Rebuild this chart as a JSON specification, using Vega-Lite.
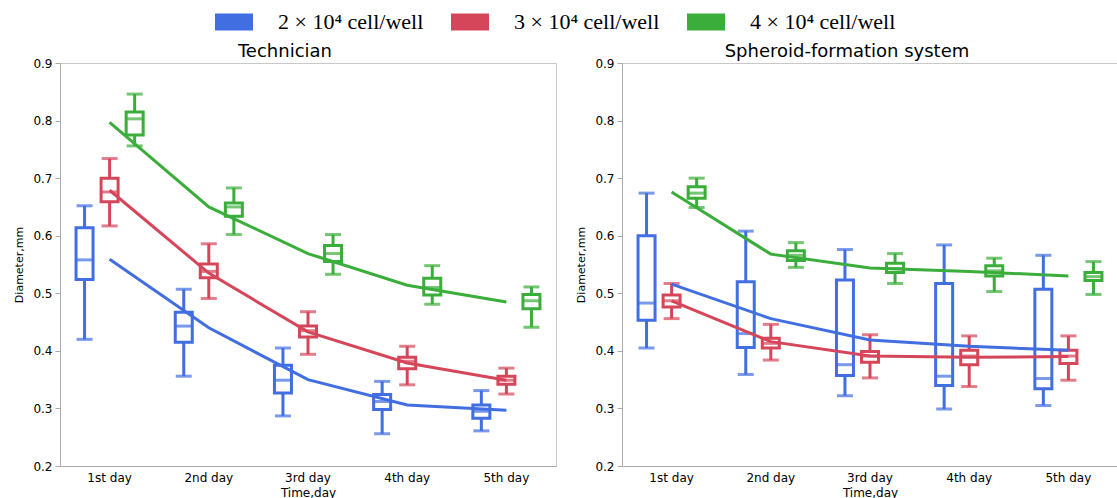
{
  "$schema": "https://vega.github.io/schema/vega-lite/v6.json",
  "background": "white",
  "padding": {"left": 13, "top": 3, "right": 1, "bottom": 5},
  "datasets": {
    "box": [
      {"panel": "T", "day": "1st day", "density": "2 × 10⁴ cell/well", "lo": 0.420, "q1": 0.524, "med": 0.558, "q3": 0.614, "hi": 0.652, "mean": 0.559},
      {"panel": "T", "day": "1st day", "density": "3 × 10⁴ cell/well", "lo": 0.617, "q1": 0.659, "med": 0.676, "q3": 0.700, "hi": 0.734, "mean": 0.679},
      {"panel": "T", "day": "1st day", "density": "4 × 10⁴ cell/well", "lo": 0.756, "q1": 0.775, "med": 0.803, "q3": 0.815, "hi": 0.846, "mean": 0.797},
      {"panel": "T", "day": "2nd day", "density": "2 × 10⁴ cell/well", "lo": 0.356, "q1": 0.415, "med": 0.443, "q3": 0.467, "hi": 0.507, "mean": 0.440},
      {"panel": "T", "day": "2nd day", "density": "3 × 10⁴ cell/well", "lo": 0.491, "q1": 0.527, "med": 0.538, "q3": 0.551, "hi": 0.586, "mean": 0.535},
      {"panel": "T", "day": "2nd day", "density": "4 × 10⁴ cell/well", "lo": 0.602, "q1": 0.634, "med": 0.650, "q3": 0.657, "hi": 0.683, "mean": 0.650},
      {"panel": "T", "day": "3rd day", "density": "2 × 10⁴ cell/well", "lo": 0.287, "q1": 0.327, "med": 0.349, "q3": 0.375, "hi": 0.405, "mean": 0.350},
      {"panel": "T", "day": "3rd day", "density": "3 × 10⁴ cell/well", "lo": 0.394, "q1": 0.424, "med": 0.435, "q3": 0.443, "hi": 0.468, "mean": 0.433},
      {"panel": "T", "day": "3rd day", "density": "4 × 10⁴ cell/well", "lo": 0.533, "q1": 0.555, "med": 0.569, "q3": 0.583, "hi": 0.602, "mean": 0.569},
      {"panel": "T", "day": "4th day", "density": "2 × 10⁴ cell/well", "lo": 0.256, "q1": 0.298, "med": 0.312, "q3": 0.324, "hi": 0.347, "mean": 0.306},
      {"panel": "T", "day": "4th day", "density": "3 × 10⁴ cell/well", "lo": 0.341, "q1": 0.369, "med": 0.382, "q3": 0.389, "hi": 0.408, "mean": 0.379},
      {"panel": "T", "day": "4th day", "density": "4 × 10⁴ cell/well", "lo": 0.481, "q1": 0.497, "med": 0.510, "q3": 0.526, "hi": 0.548, "mean": 0.514},
      {"panel": "T", "day": "5th day", "density": "2 × 10⁴ cell/well", "lo": 0.261, "q1": 0.283, "med": 0.295, "q3": 0.306, "hi": 0.331, "mean": 0.297},
      {"panel": "T", "day": "5th day", "density": "3 × 10⁴ cell/well", "lo": 0.325, "q1": 0.342, "med": 0.349, "q3": 0.356, "hi": 0.370, "mean": 0.349},
      {"panel": "T", "day": "5th day", "density": "4 × 10⁴ cell/well", "lo": 0.441, "q1": 0.473, "med": 0.487, "q3": 0.498, "hi": 0.511, "mean": 0.485},
      {"panel": "S", "day": "1st day", "density": "2 × 10⁴ cell/well", "lo": 0.405, "q1": 0.453, "med": 0.483, "q3": 0.600, "hi": 0.674, "mean": 0.516},
      {"panel": "S", "day": "1st day", "density": "3 × 10⁴ cell/well", "lo": 0.456, "q1": 0.476, "med": 0.487, "q3": 0.497, "hi": 0.517, "mean": 0.487},
      {"panel": "S", "day": "1st day", "density": "4 × 10⁴ cell/well", "lo": 0.649, "q1": 0.665, "med": 0.674, "q3": 0.685, "hi": 0.700, "mean": 0.676},
      {"panel": "S", "day": "2nd day", "density": "2 × 10⁴ cell/well", "lo": 0.359, "q1": 0.406, "med": 0.430, "q3": 0.520, "hi": 0.608, "mean": 0.456},
      {"panel": "S", "day": "2nd day", "density": "3 × 10⁴ cell/well", "lo": 0.384, "q1": 0.405, "med": 0.413, "q3": 0.422, "hi": 0.446, "mean": 0.416},
      {"panel": "S", "day": "2nd day", "density": "4 × 10⁴ cell/well", "lo": 0.545, "q1": 0.557, "med": 0.566, "q3": 0.574, "hi": 0.588, "mean": 0.568},
      {"panel": "S", "day": "3rd day", "density": "2 × 10⁴ cell/well", "lo": 0.322, "q1": 0.357, "med": 0.376, "q3": 0.523, "hi": 0.576, "mean": 0.419},
      {"panel": "S", "day": "3rd day", "density": "3 × 10⁴ cell/well", "lo": 0.353, "q1": 0.380, "med": 0.391, "q3": 0.399, "hi": 0.428, "mean": 0.391},
      {"panel": "S", "day": "3rd day", "density": "4 × 10⁴ cell/well", "lo": 0.517, "q1": 0.536, "med": 0.543, "q3": 0.552, "hi": 0.569, "mean": 0.544},
      {"panel": "S", "day": "4th day", "density": "2 × 10⁴ cell/well", "lo": 0.299, "q1": 0.340, "med": 0.356, "q3": 0.517, "hi": 0.584, "mean": 0.408},
      {"panel": "S", "day": "4th day", "density": "3 × 10⁴ cell/well", "lo": 0.338, "q1": 0.376, "med": 0.391, "q3": 0.401, "hi": 0.426, "mean": 0.389},
      {"panel": "S", "day": "4th day", "density": "4 × 10⁴ cell/well", "lo": 0.503, "q1": 0.530, "med": 0.539, "q3": 0.548, "hi": 0.561, "mean": 0.538},
      {"panel": "S", "day": "5th day", "density": "2 × 10⁴ cell/well", "lo": 0.305, "q1": 0.334, "med": 0.352, "q3": 0.507, "hi": 0.566, "mean": 0.401},
      {"panel": "S", "day": "5th day", "density": "3 × 10⁴ cell/well", "lo": 0.349, "q1": 0.378, "med": 0.391, "q3": 0.401, "hi": 0.426, "mean": 0.390},
      {"panel": "S", "day": "5th day", "density": "4 × 10⁴ cell/well", "lo": 0.498, "q1": 0.522, "med": 0.529, "q3": 0.536, "hi": 0.555, "mean": 0.530}
    ]
  },
  "hconcat": [
    {
      "width": 496,
      "height": 403,
      "title": "Technician",
      "data": {"name": "box"},
      "transform": [{"filter": "datum.panel === 'T'"}],
      "encoding": {
        "x": {"field": "day", "type": "nominal", "title": "Time,day", "scale": {"domain": ["1st day", "2nd day", "3rd day", "4th day", "5th day"], "paddingInner": 0, "paddingOuter": 0}},
        "color": {
          "field": "density", "type": "nominal",
          "scale": {"domain": ["2 × 10⁴ cell/well", "3 × 10⁴ cell/well", "4 × 10⁴ cell/well"], "range": ["#416EE0", "#D6465A", "#3BAD3B"]},
          "legend": {
            "orient": "none", "legendX": 155, "legendY": -60, "direction": "horizontal", "title": null,
            "symbolType": "M-1,-0.447H1V0.447H-1Z", "symbolSize": 1444, "symbolStrokeWidth": 0,
            "labelFont": "Liberation Serif", "labelFontSize": 22, "labelColor": "#000", "labelOffset": 25, "columnPadding": 27, "labelLimit": 300,
            "encode": {"symbols": {"update": {
              "fill": {"signal": "indexof(datum.value, '2') === 0 ? '#0000ff' : indexof(datum.value, '3') === 0 ? '#ff0000' : '#00ff00'"},
              "stroke": {"value": "transparent"},
              "opacity": {"value": 1},
              "fillOpacity": {"value": 1}
            }}}
          }
        }
      },
      "layer": [
        {"mark": {"type": "rule", "strokeWidth": 3}, "encoding": {
          "xOffset": {"field": "density", "scale": {"paddingInner": 0, "paddingOuter": 0.48}},
          "y": {"field": "lo", "type": "quantitative", "title": "Diameter,mm", "scale": {"domain": [0.2, 0.9], "nice": false, "zero": false}, "axis": {"values": [0.2, 0.3, 0.4, 0.5, 0.6, 0.7, 0.8, 0.9], "format": ".1f"}},
          "y2": {"field": "q1"}}},
        {"mark": {"type": "rule", "strokeWidth": 3}, "encoding": {
          "xOffset": {"field": "density"},
          "y": {"field": "q3", "type": "quantitative", "title": "Diameter,mm"},
          "y2": {"field": "hi"}}},
        {"mark": {"type": "bar", "filled": false, "strokeWidth": 3, "width": 17}, "encoding": {
          "xOffset": {"field": "density"},
          "y": {"field": "q1", "type": "quantitative", "title": "Diameter,mm"},
          "y2": {"field": "q3"}}},
        {"mark": {"type": "tick", "size": 17, "thickness": 3}, "encoding": {
          "xOffset": {"field": "density"},
          "y": {"field": "med", "type": "quantitative", "title": "Diameter,mm"}}},
        {"mark": {"type": "tick", "size": 16, "thickness": 3}, "encoding": {
          "xOffset": {"field": "density"},
          "y": {"field": "lo", "type": "quantitative", "title": "Diameter,mm"}}},
        {"mark": {"type": "tick", "size": 16, "thickness": 3}, "encoding": {
          "xOffset": {"field": "density"},
          "y": {"field": "hi", "type": "quantitative", "title": "Diameter,mm"}}},
        {"mark": {"type": "line", "strokeWidth": 3}, "encoding": {
          "y": {"field": "mean", "type": "quantitative", "title": "Diameter,mm"}}}
      ]
    },
    {
      "width": 496,
      "height": 403,
      "title": "Spheroid-formation system",
      "data": {"name": "box"},
      "transform": [{"filter": "datum.panel === 'S'"}],
      "encoding": {
        "x": {"field": "day", "type": "nominal", "title": "Time,day", "scale": {"domain": ["1st day", "2nd day", "3rd day", "4th day", "5th day"], "paddingInner": 0, "paddingOuter": 0}},
        "color": {"field": "density", "type": "nominal"}
      },
      "layer": [
        {"mark": {"type": "rule", "strokeWidth": 3}, "encoding": {
          "xOffset": {"field": "density", "scale": {"paddingInner": 0, "paddingOuter": 0.48}},
          "y": {"field": "lo", "type": "quantitative", "title": "Diameter,mm", "scale": {"domain": [0.2, 0.9], "nice": false, "zero": false},
            "axis": {"values": [0.2, 0.25, 0.3, 0.35, 0.4, 0.45, 0.5, 0.55, 0.6, 0.65, 0.7, 0.75, 0.8, 0.85, 0.9],
              "labelExpr": "abs(datum.value * 10 - round(datum.value * 10)) > 0.01 ? '' : format(datum.value, '.1f')",
              "tickSize": {"condition": {"test": "abs(datum.value * 10 - round(datum.value * 10)) > 0.01", "value": 3}, "value": 5}}},
          "y2": {"field": "q1"}}},
        {"mark": {"type": "rule", "strokeWidth": 3}, "encoding": {
          "xOffset": {"field": "density"},
          "y": {"field": "q3", "type": "quantitative", "title": "Diameter,mm"},
          "y2": {"field": "hi"}}},
        {"mark": {"type": "bar", "filled": false, "strokeWidth": 3, "width": 17}, "encoding": {
          "xOffset": {"field": "density"},
          "y": {"field": "q1", "type": "quantitative", "title": "Diameter,mm"},
          "y2": {"field": "q3"}}},
        {"mark": {"type": "tick", "size": 17, "thickness": 3}, "encoding": {
          "xOffset": {"field": "density"},
          "y": {"field": "med", "type": "quantitative", "title": "Diameter,mm"}}},
        {"mark": {"type": "tick", "size": 16, "thickness": 3}, "encoding": {
          "xOffset": {"field": "density"},
          "y": {"field": "lo", "type": "quantitative", "title": "Diameter,mm"}}},
        {"mark": {"type": "tick", "size": 16, "thickness": 3}, "encoding": {
          "xOffset": {"field": "density"},
          "y": {"field": "hi", "type": "quantitative", "title": "Diameter,mm"}}},
        {"mark": {"type": "line", "strokeWidth": 3}, "encoding": {
          "y": {"field": "mean", "type": "quantitative", "title": "Diameter,mm"}}}
      ]
    }
  ],
  "config": {
    "view": {"stroke": "#c8c8c8", "strokeWidth": 1},
    "font": "DejaVu Sans",
    "axis": {"labelFont": "DejaVu Sans", "labelFontSize": 12, "labelColor": "#000", "titleFont": "DejaVu Sans", "titleFontSize": 11, "titleFontWeight": "normal", "titleColor": "#000", "domainColor": "#aaa", "tickColor": "#aaa", "grid": false},
    "axisX": {"ticks": false, "labelAngle": 0, "labelPadding": 6, "titleFontSize": 12, "titlePadding": 4},
    "axisY": {"tickSize": 5, "labelPadding": 3, "titlePadding": 8},
    "title": {"font": "DejaVu Sans", "fontSize": 18, "fontWeight": "normal", "color": "#000", "offset": -4, "frame": "bounds"},
    "concat": {"spacing": 18}
  }
}
